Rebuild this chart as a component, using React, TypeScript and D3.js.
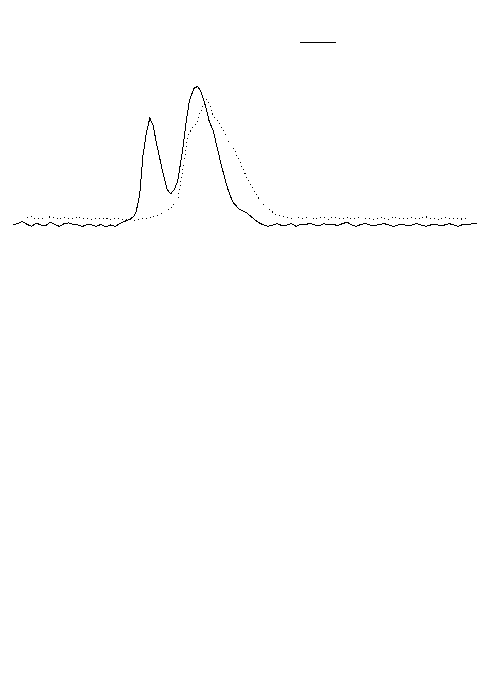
import * as d3 from "d3";

const width = 490;
const height = 673;
const margin = { left: 13, right: 13, top: 87, bottom: 448 };

// solid trace (x, signal)
const solidX = [
  0, 1, 2, 3, 4, 5, 6, 7, 8, 9, 10, 11, 12, 13, 14, 15, 16, 17, 18, 19, 20, 21, 22, 23, 24, 25,
  26, 26.5, 27.3, 28, 28.8, 29.5, 30.2, 31, 32.3, 33.2, 34, 34.8, 35.5, 36.5, 37.3, 38, 39,
  39.8, 40.6, 41.5, 42.3, 43.2, 44, 45, 46.2, 47.3, 48.7, 50.5, 51.7, 52.8, 54,
  55, 56, 57, 58, 59, 60, 61, 62, 63, 64, 65, 66, 67, 68, 69, 70, 71, 72, 73, 74, 75, 76, 77,
  78, 79, 80, 81, 82, 83, 84, 85, 86, 87, 88, 89, 90, 91, 92, 93, 94, 95, 96, 97, 98, 99, 100,
];
const solidY = [
  0, 1, 2.5, 0.5, -1, 1.5, 0, -0.5, 2, 0.5, -1, 1, 1.5, 0.5, 0, -1, 0.5, 0, -1, 0.5, -1.5, 0, -1, 1, 2.5, 4,
  6, 9, 22, 50, 68, 77.5, 72, 58, 38, 26, 22.5, 26, 32, 53, 74, 90, 99,
  100.5, 96, 86, 75, 68, 56, 42, 27, 17, 11.5, 8.5, 5, 2, 0,
  -1, 0, 1, -0.5, 0, 1, -1, 0.5, 0, 1.5, 0, -0.5, 1, 0, 0.5, -0.5, 1, 2, 0, -1, 0.5, 1, 0,
  -0.5, 0.5, 1, 0, -1, 0, 0.5, -0.5, 0, 1, 0, -1, 0, 0.5, -0.5, 0, 1, 0, -1, 0.5, 0, 1, 1,
];

// dotted trace (x, signal)
const dottedX = [
  3, 4, 5, 6, 7, 8, 9, 10, 11, 12, 13, 14, 15, 16, 17, 18, 19, 20, 21, 22, 23, 24, 25, 26, 27, 28,
  29, 30, 31.3, 32.3, 33.3, 34.3, 34.9, 35.6, 36.6, 37.7, 38.7, 39.7, 40.3, 41, 41.6,
  42.3, 43.1, 45, 46.3, 47.8, 49.4, 50.6, 52.2, 53.7, 54.7, 56.9, 58.6,
  60, 61, 62, 63, 64, 65, 66, 67, 68, 69, 70, 71, 72, 73, 74, 75, 76, 77, 78, 79, 80, 81, 82,
  83, 84, 85, 86, 87, 88, 89, 90, 91, 92, 93, 94, 95, 96, 97, 98,
];
const dottedY = [
  5, 6, 4.5, 5.5, 4, 6, 5, 4, 5.5, 4.5, 5, 6, 4.5, 5, 4, 5, 4.5, 5, 4, 5, 4.5, 4, 4.5, 3.5, 4, 4.5,
  5, 5.5, 7, 8.5, 10.5, 13, 16, 20, 40, 65, 71, 74, 81, 87, 91,
  88, 80, 71, 61.6, 54, 42, 32.6, 23, 16, 12.3, 7.2, 5.8,
  5, 6, 4.5, 5, 6.5, 4, 5, 5.5, 4, 6, 5, 4.5, 5.5, 4, 5, 6, 4.5, 5, 4, 5.5, 5, 4, 6,
  5, 4.5, 5, 5.5, 4, 5, 6, 4.5, 5, 4, 5.5, 5, 4.5, 5, 4, 5,
];

const legendLabels = ["solid", "dotted"];

function App() {
  const xScale = d3
    .scaleLinear()
    .domain([0, 100])
    .range([margin.left, width - margin.right]);
  const yScale = d3
    .scaleLinear()
    .domain([0, 100])
    .range([height - margin.bottom, margin.top]);

  const solid = solidX.map((x, i) => [x, solidY[i]] as [number, number]);
  const dotted = dottedX.map((x, i) => [x, dottedY[i]] as [number, number]);

  const line = d3
    .line<[number, number]>()
    .x((d) => xScale(d[0]))
    .y((d) => yScale(d[1]))
    .curve(d3.curveLinear);

  return (
    <svg
      width={width}
      height={height}
      viewBox={`0 0 ${width} ${height}`}
      shapeRendering="crispEdges"
      style={{ position: "absolute", left: 0, top: 0, background: "#fff" }}
    >
      <path d={line(dotted) ?? ""} fill="none" stroke="#000" strokeWidth={1} strokeDasharray="1 3" />
      <path d={line(solid) ?? ""} fill="none" stroke="#000" strokeWidth={1} />
      {/* legend */}
      <g transform="translate(300, 42)">
        <line x1={0} x2={36} y1={0.5} y2={0.5} stroke="#000" strokeWidth={1}>
          <title>{legendLabels[0]}</title>
        </line>
      </g>
    </svg>
  );
}

export default App;
